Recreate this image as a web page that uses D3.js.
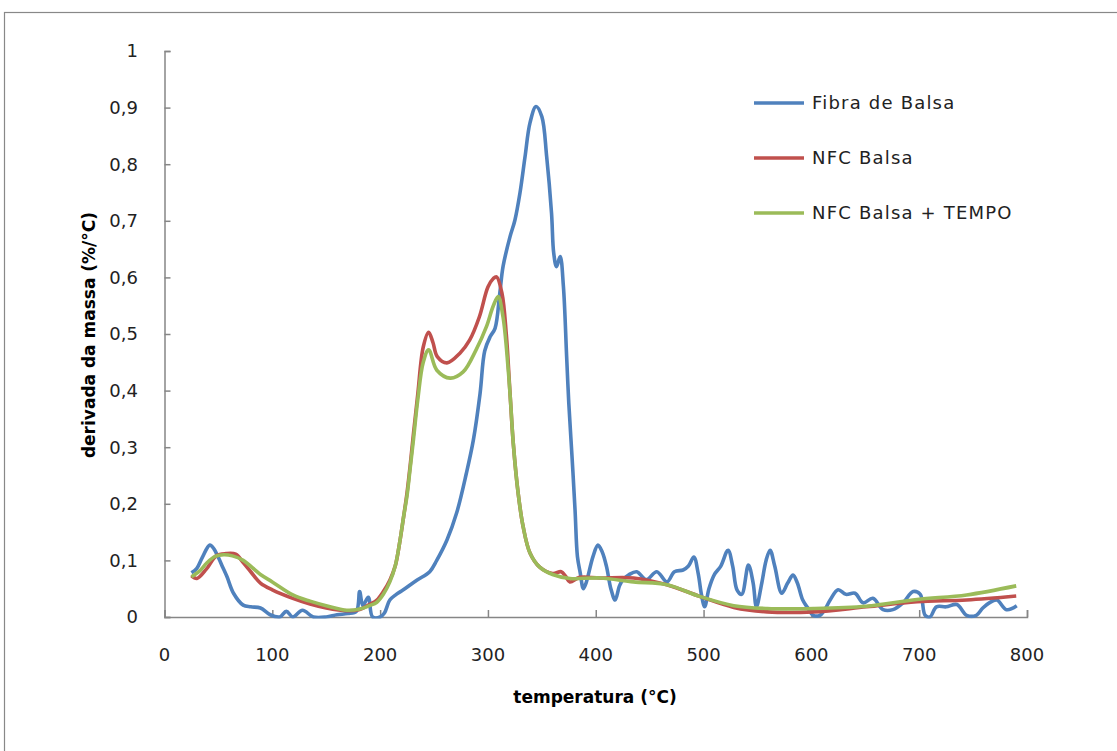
<!DOCTYPE html>
<html>
<head>
<meta charset="utf-8">
<script src="https://cdn.jsdelivr.net/npm/d3@7"></script>
<style>
  body { margin: 0; background: #fff; }
  svg { display: block; font-family: "DejaVu Sans", Verdana, sans-serif; }
</style>
</head>
<body>
<div id="chart"></div>
<script>
// temperature (°C), derivative of mass (%/°C)
var fibraBalsa = [[25,0.078],[30,0.086],[35,0.105],[42,0.127],[46,0.12],[50,0.105],[54,0.088],[58,0.071],[64,0.042],[73,0.021],[80,0.018],[89,0.016],[98,0.004],[107,0],[113,0.01],[119,0],[128,0.012],[138,0],[150,0],[160,0.004],[170,0.006],[178,0.01],[181,0.045],[184,0.02],[189,0.035],[193,0],[200,0],[204,0.007],[209,0.03],[215,0.04],[221.5,0.048],[234,0.065],[246,0.08],[252.5,0.1],[262,0.136],[271,0.184],[280,0.254],[286.5,0.313],[292.7,0.395],[297,0.47],[302,0.495],[306.6,0.51],[311,0.572],[314,0.619],[320.5,0.672],[325,0.701],[329.7,0.749],[334.4,0.813],[339,0.873],[344.6,0.902],[350,0.884],[354.5,0.813],[359,0.713],[361,0.643],[363.6,0.619],[367,0.637],[370,0.584],[373,0.46],[375,0.378],[378,0.283],[380.8,0.189],[383,0.107],[385.6,0.078],[388.5,0.05],[391,0.06],[397.5,0.107],[402,0.127],[406,0.115],[410,0.089],[414,0.05],[418,0.03],[422,0.055],[425,0.065],[431,0.075],[438,0.08],[447,0.066],[456.6,0.08],[466,0.062],[473,0.08],[481,0.083],[486,0.09],[491,0.106],[495,0.077],[498,0.04],[501,0.018],[505,0.05],[510,0.075],[516,0.09],[522.7,0.118],[527,0.09],[531,0.048],[535.4,0.04],[541.6,0.092],[546,0.06],[549,0.018],[554,0.06],[558,0.1],[561.7,0.118],[566,0.09],[572.5,0.042],[578,0.06],[583,0.074],[587,0.06],[592,0.03],[597,0.015],[601.6,0.003],[608,0.003],[613,0.015],[617.4,0.03],[624.8,0.048],[632,0.04],[640.5,0.042],[648,0.025],[657,0.033],[666.5,0.013],[675.6,0.013],[685,0.025],[694.4,0.045],[701,0.04],[705.5,0.003],[710,0],[716,0.018],[725,0.018],[735,0.022],[744,0.003],[753,0.003],[759,0.016],[765,0.025],[772,0.03],[781,0.013],[790.5,0.02]];

var nfcBalsa = [[25,0.073],[30,0.068],[39,0.085],[48,0.108],[57,0.112],[66,0.111],[73,0.096],[80,0.08],[89,0.06],[100,0.048],[119,0.033],[135,0.023],[150,0.016],[169,0.011],[181,0.013],[190,0.022],[197,0.03],[203,0.045],[209,0.065],[214,0.09],[218,0.13],[222,0.18],[225,0.22],[228,0.27],[231,0.325],[235,0.395],[240,0.477],[245,0.503],[249,0.485],[253,0.46],[262,0.449],[274,0.466],[283,0.489],[292,0.53],[300,0.583],[305,0.598],[308,0.601],[313,0.572],[317,0.5],[320.5,0.395],[323.5,0.307],[328,0.219],[332.6,0.16],[339,0.113],[348,0.088],[360,0.077],[368,0.08],[372,0.072],[376,0.062],[385,0.07],[404,0.069],[435,0.069],[466,0.057],[497,0.036],[528,0.017],[559,0.009],[602,0.009],[651,0.018],[698,0.027],[744,0.03],[790,0.037]];

var nfcTempo = [[25,0.071],[33,0.082],[39,0.095],[47,0.107],[55,0.11],[63,0.108],[73,0.1],[89,0.075],[100,0.062],[119,0.039],[135,0.028],[150,0.02],[169,0.012],[181,0.014],[190,0.02],[197,0.026],[203,0.04],[209,0.062],[214,0.09],[218,0.13],[222,0.18],[225,0.215],[228,0.265],[231,0.315],[235,0.385],[240,0.45],[245,0.472],[252.6,0.436],[265,0.422],[277,0.433],[289,0.472],[298.6,0.513],[305,0.55],[309.5,0.566],[314,0.53],[318.6,0.442],[321,0.38],[323.5,0.307],[328,0.219],[332.6,0.16],[339,0.113],[348,0.088],[360,0.075],[376,0.068],[404,0.069],[435,0.062],[466,0.057],[497,0.036],[528,0.02],[559,0.015],[602,0.015],[651,0.019],[698,0.031],[744,0.039],[790,0.055]];

var seriesNames = ["Fibra de Balsa", "NFC Balsa", "NFC Balsa + TEMPO"];
var seriesColors = ["#4F81BD", "#C0504D", "#9BBB59"];
var xTicks = [0, 100, 200, 300, 400, 500, 600, 700, 800];
var yTicks = [0, 0.1, 0.2, 0.3, 0.4, 0.5, 0.6, 0.7, 0.8, 0.9, 1];

var width = 1117, height = 751;

var svg = d3.select("#chart")
    .append("svg")
    .attr("width", width)
    .attr("height", height)

// outer chart border
svg.append("rect")
    .attr("x", 4.5).attr("y", 12.5)
    .attr("width", 1130).attr("height", 760)
    .attr("fill", "none")
    .attr("stroke", "#888")
    .attr("stroke-width", 1.2)

var x = d3.scaleLinear().domain([0, 800]).range([164.5, 1027]);
var y = d3.scaleLinear().domain([0, 1]).range([617, 51]);

var fmt = function(d){ return String(d3.format(".1~f")(d)).replace(".", ","); }

// y axis, ticks inside
var yAxis = svg.append("g")
    .attr("transform", "translate(" + x(0) + ",0)")
    .call(d3.axisRight(y).tickValues(yTicks).tickSize(6).tickFormat(""))
yAxis.select(".domain").attr("stroke", "#868686").attr("stroke-width", 1.5)
yAxis.selectAll(".tick line").attr("stroke", "#868686").attr("stroke-width", 1.5)

svg.append("g").selectAll("text")
    .data(yTicks)
    .enter()
    .append("text")
    .attr("x", 138)
    .attr("y", function(d){ return y(d); })
    .attr("dy", "0.36em")
    .attr("text-anchor", "end")
    .style("font-size", "18px")
    .attr("fill", "#222")
    .text(function(d){ return d === 0 ? "0" : fmt(d); })

// x axis, ticks inside
var xAxis = svg.append("g")
    .attr("transform", "translate(0," + y(0) + ")")
    .call(d3.axisTop(x).tickValues(xTicks).tickSize(7).tickFormat(""))
xAxis.select(".domain").attr("stroke", "#868686").attr("stroke-width", 1.5)
xAxis.selectAll(".tick line").attr("stroke", "#868686").attr("stroke-width", 1.5)

svg.append("g").selectAll("text")
    .data(xTicks)
    .enter()
    .append("text")
    .attr("x", function(d){ return x(d); })
    .attr("y", 661)
    .attr("text-anchor", "middle")
    .style("font-size", "18px")
    .attr("fill", "#222")
    .text(function(d){ return d; })

// axis titles
svg.append("text")
    .attr("x", 595).attr("y", 703)
    .attr("text-anchor", "middle")
    .style("font-size", "17px")
    .style("font-weight", "bold")
    .text("temperatura (°C)")

svg.append("text")
    .attr("transform", "translate(95,335) rotate(-90)")
    .attr("text-anchor", "middle")
    .style("font-size", "17px")
    .style("font-weight", "bold")
    .text("derivada da massa  (%/°C)")

var clip = svg.append("clipPath").attr("id", "plot")
    .append("rect").attr("x", x(0)).attr("y", 0).attr("width", x(800) - x(0) + 10).attr("height", y(0) + 1.5)

var line = d3.line()
    .x(function(d){ return x(d[0]); })
    .y(function(d){ return y(d[1]); })
    .curve(d3.curveCatmullRom.alpha(0.5))

var allSeries = [fibraBalsa, nfcBalsa, nfcTempo];

svg.append("g")
    .attr("clip-path", "url(#plot)")
    .selectAll("path")
    .data(allSeries)
    .enter()
    .append("path")
    .attr("d", line)
    .attr("fill", "none")
    .attr("stroke", function(d, i){ return seriesColors[i]; })
    .attr("stroke-width", 3.6)
    .attr("stroke-linejoin", "round")

// legend
var legend = svg.append("g")
    .selectAll("g")
    .data(seriesNames)
    .enter()
    .append("g")
    .attr("transform", function(d, i){ return "translate(754," + (103 + i * 55) + ")"; })

legend.append("line")
    .attr("x1", 0).attr("x2", 50)
    .attr("stroke", function(d, i){ return seriesColors[i]; })
    .attr("stroke-width", 3.6)

legend.append("text")
    .attr("x", 58)
    .attr("dy", "0.36em")
    .style("font-size", "18px")
    .style("letter-spacing", "1.2px")
    .attr("fill", "#222")
    .text(function(d){ return d; })
</script>
</body>
</html>
